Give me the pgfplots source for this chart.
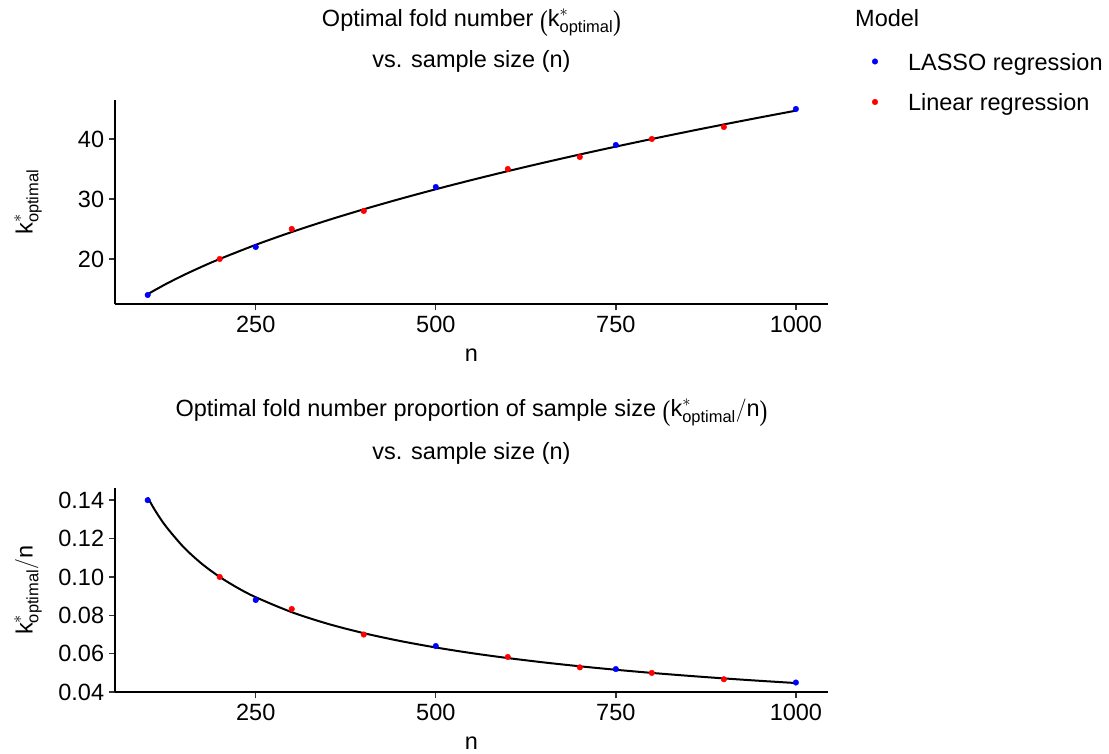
\RequirePackage{fix-cm}
\documentclass[border=0pt]{standalone}
\usepackage{amsmath}
\usepackage{fontspec}
\setmainfont{Liberation Sans}
\newfontfamily\serifp{Liberation Serif}
\usepackage{graphicx}
\usepackage{pgfplots}
\pgfplotsset{compat=1.18}
\newcommand\fs{\fontsize{23.5}{28}\selectfont}
\newcommand\lp{\raisebox{-0.14em}{\scalebox{1}[1.22]{\serifp(}}}
\newcommand\rp{\raisebox{-0.14em}{\scalebox{1}[1.22]{\serifp)}}}
\definecolor{lassoblue}{RGB}{0,0,255}
\definecolor{linred}{RGB}{255,0,0}
\pgfplotsset{
  myax/.style={
    scale only axis, width=713pt,
    xmin=55, xmax=1045,
    axis x line*=bottom, axis y line*=left,
    axis line style={line width=1.8pt, black, -},
    xtick={250,500,750,1000},
    tick style={line width=1.4pt, color=black!80},
    tick align=outside, major tick length=6pt,
    minor tick num=0,
    /pgf/number format/assume math mode=true,
    /pgf/number format/set thousands separator={},
    ticklabel style={font=\fs, text=black, inner sep=0pt},
    xticklabel style={yshift=-6pt},
    yticklabel style={xshift=-5pt},
    clip=false,
  },
  ptb/.style={only marks, mark=*, mark size=2.8pt, color=lassoblue, mark options={draw=lassoblue, fill=lassoblue, line width=0.4pt}},
  ptr/.style={only marks, mark=*, mark size=2.8pt, color=linred, mark options={draw=linred, fill=linred, line width=0.4pt}},
  fit/.style={black, line width=2pt, smooth, no marks},
}
\begin{document}
\begin{tikzpicture}
\useasboundingbox (0,0) rectangle (1109pt,754pt);
% ---------- top panel ----------
\begin{axis}[myax,
  at={(115.3pt,449.7pt)}, anchor=south west, height=204.6pt,
  ymin=12.45, ymax=46.55, ytick={20,30,40},
  legend style={draw=none, fill=none, font=\fs, inner sep=0pt, outer sep=0pt,
    at={(axis description cs:1.0599,1.2405)}, anchor=north west,
    cells={anchor=west}, row sep=18.5pt,
    nodes={inner sep=0pt, text height=20pt, text depth=2pt}},
  legend image code/.code={\path[draw=none,fill=none] (-4pt,0pt) rectangle (33pt,0.1pt); \draw[#1] plot coordinates {(0pt,0pt)};},
]
\addplot[fit, forget plot] coordinates {
(100,14.142) (125,15.811) (150,17.321) (175,18.708) (200,20.000) (250,22.361)
(300,24.495) (350,26.458) (400,28.284) (450,30.000) (500,31.623) (550,33.166)
(600,34.641) (650,36.056) (700,37.417) (750,38.730) (800,40.000) (850,41.231)
(900,42.426) (950,43.589) (1000,44.721)};
\addplot[ptb] coordinates {(100,14) (250,22) (500,32) (750,39) (1000,45)};
\addlegendentry{LASSO regression}
\addplot[ptr] coordinates {(200,20) (300,25) (400,28) (600,35) (700,37) (800,40) (900,42)};
\addlegendentry{Linear regression}
\end{axis}
% ---------- bottom panel ----------
\begin{axis}[myax,
  at={(115.3pt,61.7pt)}, anchor=south west, height=204pt,
  ymin=0.0399, ymax=0.1462, ytick={0.04,0.06,0.08,0.10,0.12,0.14},
  scaled y ticks=false,
  yticklabel style={/pgf/number format/.cd, fixed, fixed zerofill, precision=2},
]
\addplot[fit] coordinates {
(100,0.14142) (110,0.13484) (125,0.12649) (150,0.11547) (175,0.10690) (200,0.10000)
(225,0.09428) (250,0.08944) (300,0.08165) (350,0.07559) (400,0.07071) (450,0.06667)
(500,0.06325) (550,0.06030) (600,0.05774) (650,0.05547) (700,0.05345) (750,0.05164)
(800,0.05000) (850,0.04851) (900,0.04714) (950,0.04588) (1000,0.04472)};
\addplot[ptb] coordinates {(100,0.14) (250,0.088) (500,0.064) (750,0.052) (1000,0.045)};
\addplot[ptr] coordinates {(200,0.10) (300,0.0833) (400,0.07) (600,0.0583) (700,0.0529) (800,0.05) (900,0.0467)};
\end{axis}
% ---------- texts ----------
\node[font=\fs, anchor=base, inner sep=0pt] at (471.5pt,727pt) {Optimal fold number \lp$\text{k}^{*}_{\text{optimal}}$\rp};
\node[font=\fs, anchor=base, inner sep=0pt] at (471.5pt,686pt) {vs. sample size (n)};
\node[font=\fs, anchor=base, inner sep=0pt] at (471.5pt,337pt) {Optimal fold number proportion of sample size \lp$\text{k}^{*}_{\text{optimal}}/\text{n}$\rp};
\node[font=\fs, anchor=base, inner sep=0pt] at (471.5pt,294pt) {vs. sample size (n)};
\node[font=\fs, anchor=base, inner sep=0pt] at (471.5pt,392pt) {n};
\node[font=\fs, anchor=base, inner sep=0pt] at (471.5pt,4pt) {n};
\node[font=\fs, rotate=90, inner sep=0pt] at (28pt,552pt) {$\text{k}^{*}_{\text{optimal}}$};
\node[font=\fs, rotate=90, inner sep=0pt] at (28pt,163.7pt) {$\text{k}^{*}_{\text{optimal}}/\text{n}$};
\node[font=\fs, anchor=base west, inner sep=0pt] at (855pt,727pt) {Model};
\end{tikzpicture}
\end{document}
